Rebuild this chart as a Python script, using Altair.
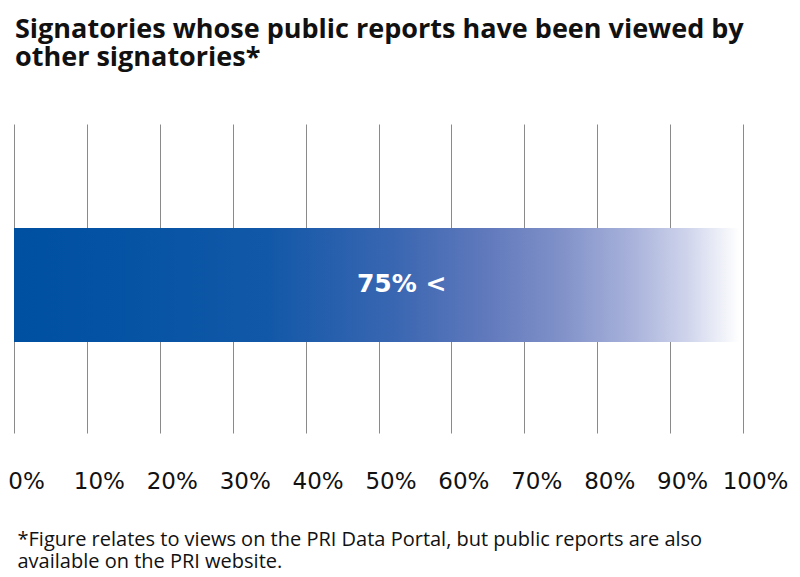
import altair as alt
import pandas as pd

categories = ["Signatories"]
values = [99.5]
labels = ["75% <"]
tick_values = [0, 10, 20, 30, 40, 50, 60, 70, 80, 90, 100]

title_lines = ["Signatories whose public reports have been viewed by", "other signatories*"]
footnote_lines = [
    "*Figure relates to views on the PRI Data Portal, but public reports are also",
    "available on the PRI website.",
]

df = pd.DataFrame({"cat": categories, "value": values, "label": labels})

gradient = alt.Gradient(
    gradient="linear",
    x1=0, x2=1, y1=0, y2=0,
    stops=[
        alt.GradientStop(color="#0050A2", offset=0),
        alt.GradientStop(color="#0352A3", offset=0.12),
        alt.GradientStop(color="#1258A8", offset=0.35),
        alt.GradientStop(color="#3B67B2", offset=0.53),
        alt.GradientStop(color="#6079BC", offset=0.65),
        alt.GradientStop(color="#7F90C8", offset=0.75),
        alt.GradientStop(color="#A7B1DA", offset=0.85),
        alt.GradientStop(color="#D0D5EC", offset=0.93),
        alt.GradientStop(color="#FFFFFF", offset=1),
    ],
)

x_enc = alt.X(
    "value:Q",
    scale=alt.Scale(domain=[0, 100], nice=False),
    axis=alt.Axis(
        values=tick_values,
        labelExpr="datum.value + '%'",
        grid=True,
        gridColor="#8a8a8a",
        gridWidth=1,
        domain=False,
        ticks=False,
        labelPadding=37,
        labelOffset=12,
        labelFont="DejaVu Sans",
        labelFontSize=23,
        labelColor="#111111",
        labelFlush=False,
        title=footnote_lines,
        titleAnchor="start",
        titleAlign="left",
        titleBaseline="alphabetic",
        titleX=3,
        titleY=112,
        titleFont="Open Sans",
        titleFontSize=20,
        titleFontWeight="normal",
        titleColor="#111111",
        titleLineHeight=22,
    ),
)

y_enc = alt.Y(
    "cat:N",
    scale=alt.Scale(paddingInner=0, paddingOuter=0.855),
    axis=None,
)

bars = alt.Chart(df).mark_bar(color=gradient, yOffset=6.5).encode(x=x_enc, y=y_enc)

text = (
    alt.Chart(df)
    .transform_calculate(mid="datum.value / 2")
    .mark_text(
        color="white",
        font="DejaVu Sans",
        fontSize=25,
        fontWeight="bold",
        align="center",
        baseline="middle",
        dx=25,
        yOffset=5,
    )
    .encode(x=alt.X("mid:Q"), y=y_enc, text="label:N")
)

chart = (
    alt.layer(bars, text)
    .properties(
        width=729,
        height=309,
        autosize=alt.AutoSizeParams(type="none"),
        padding={"left": 6, "top": 116, "right": 48, "bottom": 136},
        title=alt.TitleParams(
            text=title_lines,
            anchor="start",
            frame="group",
            font="Open Sans",
            fontSize=27,
            fontWeight="bold",
            color="#111111",
            lineHeight=28,
            offset=52,
            dx=1,
        ),
    )
    .configure_view(stroke=None)
)

chart.save("out.html", embed_options={"renderer": "svg", "actions": False})
